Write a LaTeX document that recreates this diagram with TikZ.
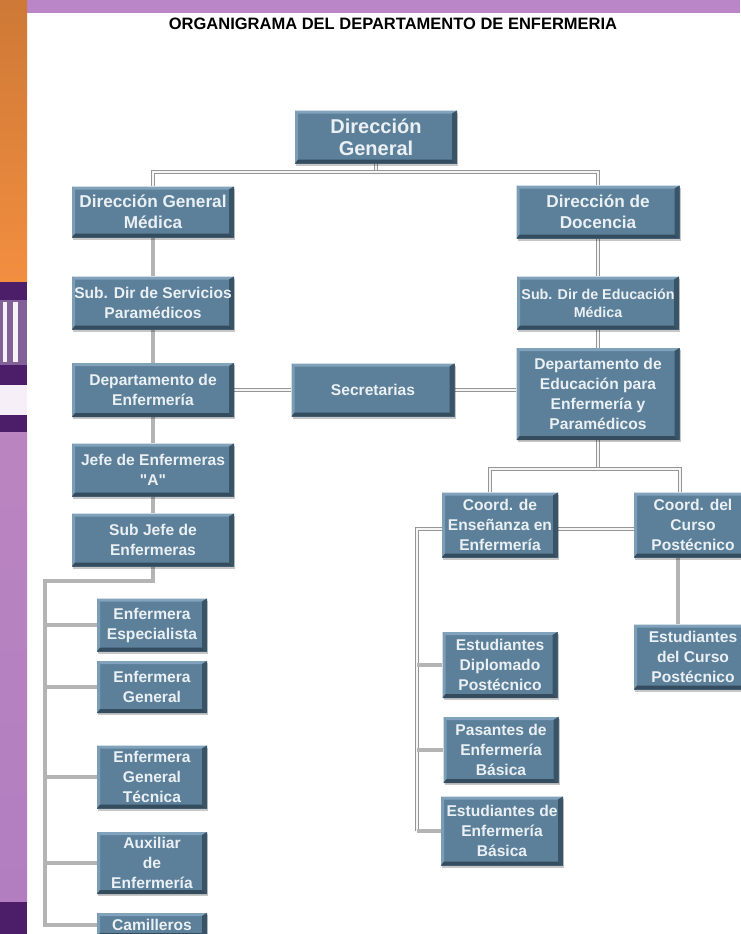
\documentclass[tikz,border=0pt]{standalone}
\usepackage{fontspec}
\setmainfont{Liberation Sans}
\usetikzlibrary{shadows,backgrounds}
\definecolor{boxfill}{RGB}{92,128,153}
\definecolor{boxlite}{RGB}{128,162,186}
\definecolor{boxdark}{RGB}{52,76,94}
\definecolor{boxtext}{RGB}{234,240,244}
\definecolor{linegray}{RGB}{150,150,150}
\definecolor{bargray}{RGB}{180,180,180}
\definecolor{stripor}{RGB}{242,142,64}
\definecolor{strippu}{RGB}{178,126,192}
\definecolor{stripdk}{RGB}{76,30,106}
\definecolor{bandpu}{RGB}{186,134,200}
\newcommand\dquote{\XeTeXglyph\XeTeXcharglyph"22\relax}
\begin{document}
\begin{tikzpicture}[
  x=1pt,y=-1pt,
  bevelled/.style={path picture={
    \fill[boxlite] (path picture bounding box.north west) -- (path picture bounding box.north east)
      -- ([shift={(-5,3)}]path picture bounding box.north east) -- ([shift={(3,3)}]path picture bounding box.north west) -- cycle;
    \fill[boxlite!85!boxfill] (path picture bounding box.north west) -- ([shift={(3,3)}]path picture bounding box.north west)
      -- ([shift={(3,-4)}]path picture bounding box.south west) -- (path picture bounding box.south west) -- cycle;
    \fill[boxdark] (path picture bounding box.south west) -- ([shift={(3,-4)}]path picture bounding box.south west)
      -- ([shift={(-5,-4)}]path picture bounding box.south east) -- (path picture bounding box.south east) -- cycle;
    \fill[boxdark!85!boxfill] (path picture bounding box.north east) -- ([shift={(-5,3)}]path picture bounding box.north east)
      -- ([shift={(-5,-4)}]path picture bounding box.south east) -- (path picture bounding box.south east) -- cycle;
  }},
  box/.style 2 args={fill=boxfill, text=boxtext, font=\bfseries\fontsize{15.6}{20}\selectfont, align=center,
    inner sep=0pt, minimum width=#1pt, minimum height=#2pt, bevelled,
    drop shadow={shadow xshift=1pt, shadow yshift=-2pt, opacity=0.22, fill=black}},
  dbl/.style={draw=linegray, line width=0.9pt, double=white!92!gray, double distance=2.4pt},
  bar/.style={draw=bargray, line width=4.5pt}
]
\useasboundingbox (0,0) rectangle (740,934);
\node[font=\bfseries\fontsize{16.5}{20}\selectfont] (title) at (393,24) {ORGANIGRAMA DEL DEPARTAMENTO DE ENFERMERIA};
\node[box={162}{53}, font=\bfseries\fontsize{20}{22}\selectfont] (dg) at (376,137) {Dirección\\General};
\node[box={162}{51}, font=\bfseries\fontsize{17.2}{21}\selectfont] (dgm) at (153,212) {Dirección General\\Médica};
\node[box={163}{53}, font=\bfseries\fontsize{17.2}{21}\selectfont] (doc) at (598,212) {Dirección de\\Docencia};
\node[box={162}{53}] (subserv) at (153,303) {Sub. Dir de Servicios\\Paramédicos};
\node[box={162}{53}, font=\bfseries\fontsize{14.3}{18}\selectfont] (subedu) at (598,303) {Sub. Dir de Educación\\Médica};
\node[box={162}{54}] (depenf) at (153,390) {Departamento de\\Enfermería};
\node[box={163}{53}] (secr) at (373,390) {Secretarias};
\node[box={163}{92}] (depedu) at (598,394) {Departamento de\\Educación para\\Enfermería y\\Paramédicos};
\node[box={162}{53}] (jefe) at (153,470) {Jefe de Enfermeras\\\dquote A\dquote};
\node[box={162}{53}] (subjefe) at (153,540) {Sub Jefe de\\Enfermeras};
\node[box={110}{53}] (esp) at (152,625) {Enfermera\\Especialista};
\node[box={110}{52}] (gen) at (152,687) {Enfermera\\General};
\node[box={110}{63}] (tec) at (152,777) {Enfermera\\General\\Técnica};
\node[box={110}{62}] (aux) at (152,863) {Auxiliar\\de\\Enfermería};
\node[box={110}{24}] (cam) at (152,925) {Camilleros};
\node[box={116}{65}] (coordenf) at (500,525) {Coord. de\\Enseñanza en\\Enfermería};
\node[box={118}{65}] (coordcur) at (693,525) {Coord. del\\Curso\\Postécnico};
\node[box={115}{66}] (estdip) at (500,665) {Estudiantes\\Diplomado\\Postécnico};
\node[box={115}{66}] (pasbas) at (501,750) {Pasantes de\\Enfermería\\Básica};
\node[box={122}{69}] (estbas) at (502,831) {Estudiantes de\\Enfermería\\Básica};
\node[box={118}{65}] (estcur) at (693,657) {Estudiantes\\del Curso\\Postécnico};
\coordinate (top) at (376,172);
\coordinate (sj) at (45,581);
\coordinate (ce) at (490,469);
\coordinate (cc) at (680,469);
\coordinate (en) at (417,529);
\coordinate (cp) at (678,558);
\begin{scope}[on background layer]
\fill[white] (0,0) rectangle (740,934);
\fill[bandpu] (27,0) rectangle (740,13);
\shade[top color=stripor!85!black, bottom color=stripor] (0,0) rectangle (27,282);
\fill[stripdk] (0,282) rectangle (27,300);
\fill[stripdk!70!white] (0,300) rectangle (27,365);
\fill[white!90!strippu] (3,302) rectangle (7,362);
\fill[white!90!strippu] (13,302) rectangle (18,362);
\fill[stripdk] (0,365) rectangle (27,385);
\fill[white!88!strippu] (0,385) rectangle (27,415);
\fill[stripdk] (0,415) rectangle (27,432);
\shade[top color=strippu!90!pink, bottom color=strippu] (0,432) rectangle (27,902);
\fill[stripdk] (0,902) rectangle (27,934);
\draw[dbl] (dg.south) -- (top);
\draw[dbl] (dgm.north) |- (top) -| (doc.north);
\draw[bar] (dgm) -- (subserv) -- (depenf) -- (jefe) -- (subjefe);
\draw[bar] (subjefe.south) |- (sj) -- (sj |- cam.west) -- (cam.west);
\foreach \n in {esp,gen,tec,aux}
  \draw[bar] (sj |- \n.west) -- (\n.west);
\draw[dbl] (doc) -- (subedu) -- (depedu);
\draw[dbl] (depenf.east) -- (secr.west);
\draw[dbl] (secr.east) -- (secr.east -| depedu.west);
\draw[dbl] (depedu.south) -- (depedu.south |- ce);
\draw[dbl] (ce |- coordenf.north) -- (ce) -- (cc) -- (cc |- coordcur.north);
\draw[dbl] (en |- estbas.west) -- (en) -- (en -| coordcur.west);
\foreach \n in {estdip,pasbas,estbas}
  \draw[bar, line width=3.5pt] (en |- \n.west) -- (\n.west);
\draw[bar] (cp |- coordcur.south) -- (cp |- estcur.north);
\end{scope}
\end{tikzpicture}
\end{document}
